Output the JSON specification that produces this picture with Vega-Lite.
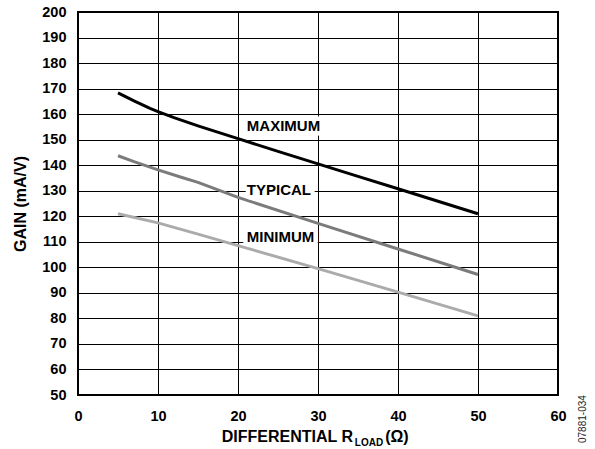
{
  "$schema": "https://vega.github.io/schema/vega-lite/v6.json",
  "width": 480,
  "height": 383,
  "autosize": {"type": "none"},
  "padding": {"left": 78, "top": 12, "right": 37, "bottom": 54},
  "background": "white",
  "config": {
    "font": "Liberation Sans",
    "view": {"stroke": "black", "strokeWidth": 2},
    "axis": {
      "domain": false,
      "ticks": false,
      "tickSize": 0,
      "grid": true,
      "gridColor": "black",
      "gridWidth": 1,
      "gridOpacity": 1,
      "labelOverlap": false,
      "labelBound": false,
      "labelFlush": false,
      "labelFont": "Liberation Sans",
      "labelFontWeight": "bold",
      "labelFontSize": 14.5,
      "labelColor": "black",
      "titleFont": "Liberation Sans",
      "titleFontWeight": "bold",
      "titleFontSize": 16,
      "titleColor": "black"
    }
  },
  "datasets": {
    "curves": [
      {"series": "MAXIMUM", "x": 5, "y": 168.3},
      {"series": "MAXIMUM", "x": 7, "y": 165.2},
      {"series": "MAXIMUM", "x": 9, "y": 162.3},
      {"series": "MAXIMUM", "x": 10, "y": 161.0},
      {"series": "MAXIMUM", "x": 12, "y": 158.6},
      {"series": "MAXIMUM", "x": 15, "y": 155.4},
      {"series": "MAXIMUM", "x": 20, "y": 150.4},
      {"series": "MAXIMUM", "x": 25, "y": 145.4},
      {"series": "MAXIMUM", "x": 30, "y": 140.5},
      {"series": "MAXIMUM", "x": 35, "y": 135.6},
      {"series": "MAXIMUM", "x": 40, "y": 130.8},
      {"series": "MAXIMUM", "x": 45, "y": 125.9},
      {"series": "MAXIMUM", "x": 50, "y": 121.0},
      {"series": "TYPICAL", "x": 5, "y": 143.7},
      {"series": "TYPICAL", "x": 7, "y": 141.4},
      {"series": "TYPICAL", "x": 10, "y": 138.2},
      {"series": "TYPICAL", "x": 13, "y": 135.2},
      {"series": "TYPICAL", "x": 15, "y": 133.3},
      {"series": "TYPICAL", "x": 20, "y": 127.4},
      {"series": "TYPICAL", "x": 30, "y": 117.2},
      {"series": "TYPICAL", "x": 40, "y": 107.2},
      {"series": "TYPICAL", "x": 50, "y": 97.2},
      {"series": "MINIMUM", "x": 5, "y": 121.0},
      {"series": "MINIMUM", "x": 10, "y": 117.4},
      {"series": "MINIMUM", "x": 15, "y": 113.0},
      {"series": "MINIMUM", "x": 20, "y": 108.5},
      {"series": "MINIMUM", "x": 30, "y": 99.5},
      {"series": "MINIMUM", "x": 40, "y": 90.3},
      {"series": "MINIMUM", "x": 50, "y": 81.0}
    ],
    "labels": [
      {"label": "MAXIMUM", "x": 21.1, "y": 155.5},
      {"label": "TYPICAL", "x": 21.1, "y": 130.1},
      {"label": "MINIMUM", "x": 21.1, "y": 111.7}
    ],
    "xtitle": [
      {"label": "DIFFERENTIAL R", "x": 17.96, "y": 31.5},
      {"label": "(Ω)", "x": 38.4, "y": 31.5}
    ],
    "xsub": [
      {"label": "LOAD", "x": 34.6, "y": 30.1}
    ],
    "code": [
      {"label": "07881-034", "x": 63.1, "y": 31.2}
    ]
  },
  "encoding": {
    "x": {
      "field": "x", "type": "quantitative",
      "scale": {"domain": [0, 60], "nice": false, "zero": false},
      "axis": {"values": [0, 10, 20, 30, 40, 50, 60], "title": null, "labelPadding": 14, "labelBaseline": "top"}
    },
    "y": {
      "field": "y", "type": "quantitative",
      "scale": {"domain": [50, 200], "nice": false, "zero": false},
      "axis": {
        "values": [50, 60, 70, 80, 90, 100, 110, 120, 130, 140, 150, 160, 170, 180, 190, 200],
        "labelPadding": 12,
        "title": "GAIN (mA/V)",
        "titleAngle": 270,
        "titleX": -58,
        "titleY": 191.5,
        "titleAlign": "center",
        "titleBaseline": "middle"
      }
    }
  },
  "layer": [
    {
      "data": {"name": "curves"},
      "mark": {"type": "line", "strokeWidth": 3, "strokeCap": "butt"},
      "encoding": {
        "color": {
          "field": "series", "type": "nominal",
          "scale": {"domain": ["MAXIMUM", "TYPICAL", "MINIMUM"], "range": ["#000000", "#7b7b7b", "#ababab"]},
          "legend": null
        }
      }
    },
    {
      "data": {"name": "labels"},
      "mark": {"type": "text", "align": "left", "baseline": "middle", "fontSize": 15, "fontWeight": "bold", "fill": "white", "stroke": "white", "strokeWidth": 9, "strokeJoin": "round"},
      "encoding": {"text": {"field": "label"}}
    },
    {
      "data": {"name": "labels"},
      "mark": {"type": "text", "align": "left", "baseline": "middle", "fontSize": 15, "fontWeight": "bold", "fill": "black"},
      "encoding": {"text": {"field": "label"}}
    },
    {
      "data": {"name": "xtitle"},
      "mark": {"type": "text", "align": "left", "baseline": "alphabetic", "fontSize": 16, "fontWeight": "bold", "fill": "black"},
      "encoding": {"text": {"field": "label"}}
    },
    {
      "data": {"name": "xsub"},
      "mark": {"type": "text", "align": "left", "baseline": "alphabetic", "fontSize": 10, "fontWeight": "bold", "fill": "black"},
      "encoding": {"text": {"field": "label"}}
    },
    {
      "data": {"name": "code"},
      "mark": {"type": "text", "align": "left", "baseline": "middle", "angle": 270, "fontSize": 10, "fontWeight": "normal", "fill": "#222222"},
      "encoding": {"text": {"field": "label"}}
    }
  ]
}
